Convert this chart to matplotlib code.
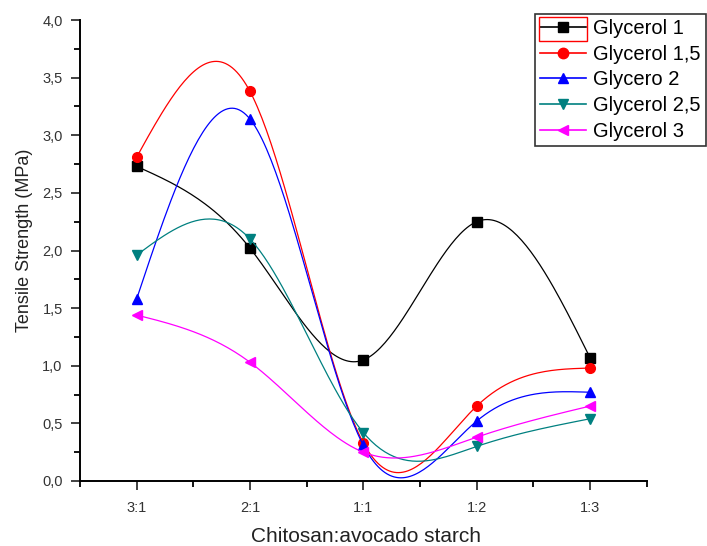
import numpy as np
import matplotlib
matplotlib.use("Agg")
import matplotlib.pyplot as plt
from matplotlib.ticker import MultipleLocator, FuncFormatter
from matplotlib.patches import Rectangle

# ratio chitosan:avocado starch
ratios = ["3:1", "2:1", "1:1", "1:2", "1:3"]

glycerol_1 = [2.73, 2.02, 1.05, 2.25, 1.07]
glycerol_15 = [2.81, 3.38, 0.33, 0.65, 0.98]
glycerol_2 = [1.58, 3.14, 0.31, 0.52, 0.77]
glycerol_25 = [1.96, 2.10, 0.42, 0.30, 0.54]
glycerol_3 = [1.44, 1.03, 0.25, 0.38, 0.65]

names = ["Glycerol 1", "Glycerol 1,5", "Glycero 2", "Glycerol 2,5", "Glycerol 3"]
colors = ["black", "red", "blue", "#008080", "magenta"]
markers = ["s", "o", "^", "v", "<"]


def natural_spline(x, y, n=200):
    # plain natural cubic spline, like origin's spline connect
    x = np.asarray(x, float)
    y = np.asarray(y, float)
    k = len(x)
    h = np.diff(x)
    A = np.zeros((k, k))
    b = np.zeros(k)
    A[0, 0] = 1
    A[-1, -1] = 1
    for i in range(1, k - 1):
        A[i, i - 1] = h[i - 1]
        A[i, i] = 2 * (h[i - 1] + h[i])
        A[i, i + 1] = h[i]
        b[i] = 6 * ((y[i + 1] - y[i]) / h[i] - (y[i] - y[i - 1]) / h[i - 1])
    M = np.linalg.solve(A, b)
    xs = np.linspace(x[0], x[-1], n)
    ys = np.zeros_like(xs)
    for j, xv in enumerate(xs):
        i = min(np.searchsorted(x, xv, side="right") - 1, k - 2)
        t1 = x[i + 1] - xv
        t0 = xv - x[i]
        ys[j] = (M[i] * t1**3 + M[i + 1] * t0**3) / (6 * h[i]) \
            + (y[i] / h[i] - M[i] * h[i] / 6) * t1 \
            + (y[i + 1] / h[i] - M[i + 1] * h[i] / 6) * t0
    return xs, ys


plt.rcParams['font.family'] = ['Liberation Sans', 'DejaVu Sans']

fig = plt.figure(figsize=(7.07, 5.46), dpi=100)
ax = fig.add_axes([80 / 707, 65 / 546, 566.7 / 707, 461 / 546])

xpos = np.arange(len(ratios))
series = [glycerol_1, glycerol_15, glycerol_2, glycerol_25, glycerol_3]
for vals, name, c, m in zip(series, names, colors, markers):
    xs, ys = natural_spline(xpos, vals)
    ax.plot(xs, ys, color=c, lw=0.9)
    ax.plot(xpos, vals, linestyle="none", marker=m, color=c, markersize=7)
    # dummy for the legend
    ax.plot([], [], color=c, lw=1.2, marker=m, markersize=7.5, label=name)

ax.set_xlim(-0.5, 4.5)
ax.set_ylim(0, 4.0)
ax.set_xticks(xpos)
ax.set_xticklabels(ratios)
ax.xaxis.set_minor_locator(MultipleLocator(0.5))
ax.yaxis.set_major_locator(MultipleLocator(0.5))
ax.yaxis.set_minor_locator(MultipleLocator(0.25))
ax.yaxis.set_major_formatter(FuncFormatter(lambda v, p: f"{v:.1f}".replace(".", ",")))

ax.spines["top"].set_visible(False)
ax.spines["right"].set_visible(False)
for s in ["left", "bottom"]:
    ax.spines[s].set_linewidth(1.4)
ax.tick_params(which="major", direction="out", length=6.5, width=1.3, labelsize=10.5,
               colors="#333333")
ax.tick_params(which="minor", direction="out", length=4, width=1.3)
ax.tick_params(axis="x", pad=8)
ax.tick_params(axis="y", pad=6)

ax.set_xlabel("Chitosan:avocado starch", fontsize=15, color="#222222")
ax.xaxis.set_label_coords(0.505, -0.1)
ax.set_ylabel("Tensile Strength (MPa)", fontsize=13, color="#222222")
ax.yaxis.set_label_coords(-0.083, 0.523)

h, l = ax.get_legend_handles_labels()
leg = fig.legend(h[-5:], l[-5:], loc="upper left", bbox_to_anchor=(535 / 707, 1 - 14 / 546),
                 fontsize=14.5, frameon=True, fancybox=False, edgecolor="black",
                 handlelength=2.3, handletextpad=0.35, labelspacing=0.33, borderpad=0.25,
                 borderaxespad=0)
leg.get_frame().set_linewidth(1.2)

# red selection box around the first legend symbol
fig.patches.append(Rectangle((539 / 707, 1 - 41 / 546), 48 / 707, 24 / 546,
                             transform=fig.transFigure, fill=False, edgecolor="red",
                             lw=1, zorder=10))

plt.savefig("out.png", dpi=100)
